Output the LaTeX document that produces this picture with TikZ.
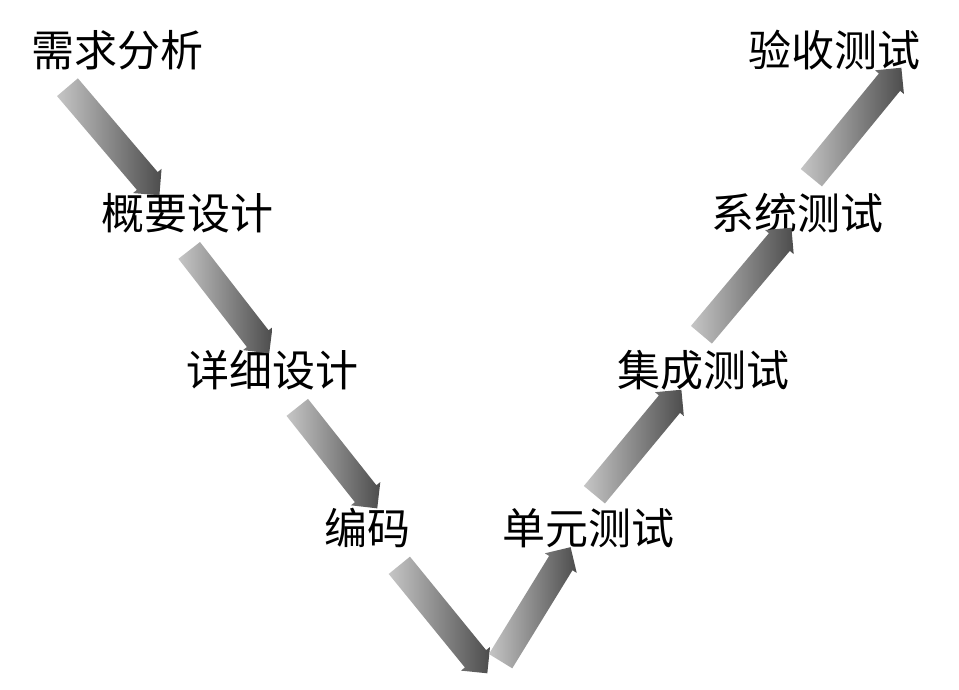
\documentclass[tikz,border=0pt]{standalone}
\usepackage{fontspec}
\setmainfont{Noto Sans CJK SC}
\usetikzlibrary{
  shapes.arrows,
  calc
}

\begin{document}
\begin{tikzpicture}[x=1pt,y=-1pt,
    stage/.style={inner sep=0pt,font=\fontsize{43}{43}\selectfont},
    bigarrow/.style={single arrow,draw=none,inner sep=0pt,sloped,
      text height=27pt,text depth=0pt,text width=0pt,
      single arrow head extend=5pt,
      single arrow tip angle=90,single arrow head indent=0pt,
      left color=gray!45,right color=black!70}]
    \useasboundingbox (0,0) rectangle (959,690);

    \node[stage] (req) at (117,50) {需求分析};
    \node[stage] (hld) at (187,213) {概要设计};
    \node[stage] (lld) at (272,370) {详细设计};
    \node[stage] (code) at (367,528) {编码};
    \node[stage] (ut) at (588,528) {单元测试};
    \node[stage] (it) at (703,370) {集成测试};
    \node[stage] (st) at (797,213) {系统测试};
    \node[stage] (at) at (834,50) {验收测试};

    % ends of the arrows
    \coordinate (t1) at (63,82);   \coordinate (h1) at (155,190);
    \coordinate (t2) at (185,245); \coordinate (h2) at (265,348);
    \coordinate (t3) at (293,402); \coordinate (h3) at (373,503);
    \coordinate (t4) at (395,560); \coordinate (h4) at (483,668);
    \coordinate (t5) at (497,667); \coordinate (h5) at (567,553);
    \coordinate (t6) at (590,500); \coordinate (h6) at (677,395);
    \coordinate (t7) at (697,340); \coordinate (h7) at (787,233);
    \coordinate (t8) at (807,183); \coordinate (h8) at (897,73);

    \foreach \t/\h in {t1/h1,t2/h2,t3/h3,t4/h4,t5/h5,t6/h6,t7/h7,t8/h8}
      \path let \p1=($(\h)-(\t)$), \n1={veclen(\x1,\y1)} in
        (\t) -- node[bigarrow,minimum height=\n1]{} (\h);
  \end{tikzpicture}
\end{document}
